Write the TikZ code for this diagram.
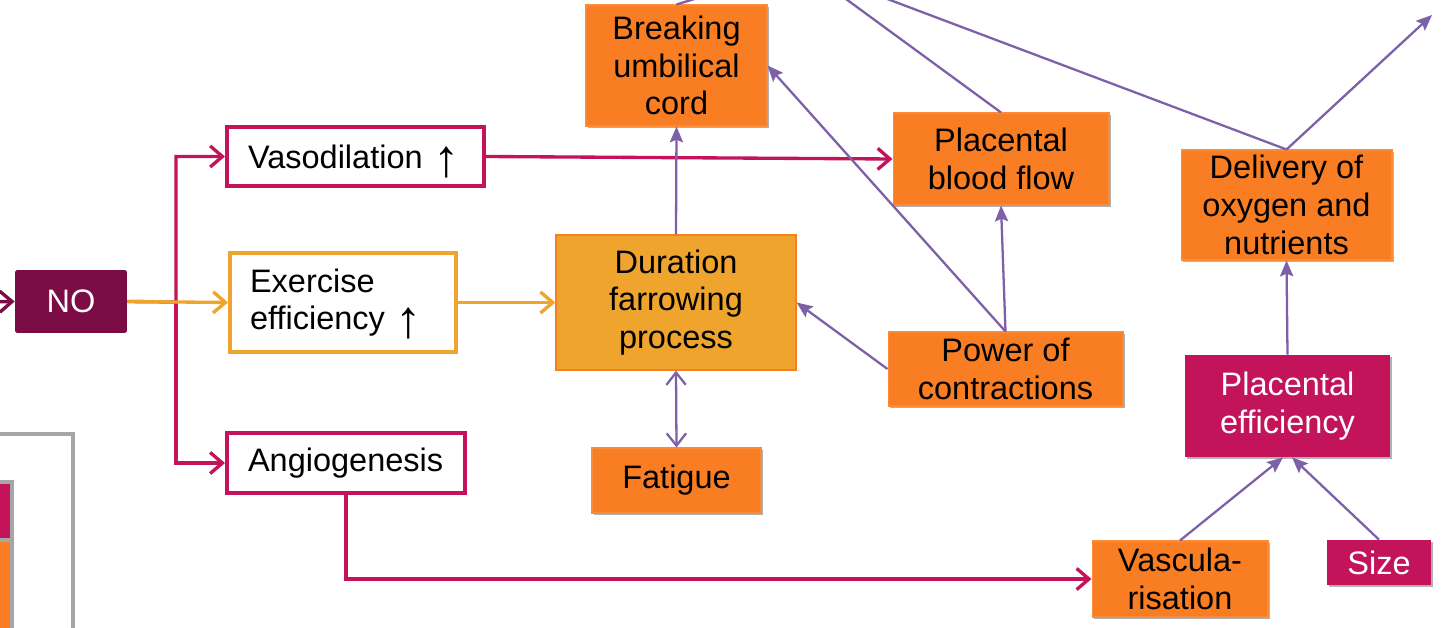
\documentclass[tikz,border=0pt]{standalone}
\usepackage{fontspec}
\setmainfont{Liberation Sans}
\newcommand{\uparr}{\smash{\raisebox{-4.5pt}{\fontsize{30}{21.5}\selectfont ↑}}}
\usetikzlibrary{arrows.meta,shadows,calc}
\definecolor{maroon}{HTML}{7B0C45}
\definecolor{crimson}{HTML}{C2135B}
\definecolor{orng}{HTML}{F97E23}
\definecolor{gold}{HTML}{EFA42E}
\definecolor{purp}{HTML}{7E60A8}
\definecolor{legray}{HTML}{A6A6A6}
\tikzset{
  base/.style={rectangle, inner sep=0pt, align=center, font=\fontsize{18.5}{21.5}\selectfont},
  obox/.style={base, fill=orng, draw=orng!90!white, line width=0.6pt,
     drop shadow={shadow xshift=1.3pt, shadow yshift=-1.3pt, opacity=0.3, fill=black}},
  cbox/.style={base, fill=crimson, text=white,
     drop shadow={shadow xshift=1.3pt, shadow yshift=-1.3pt, opacity=0.3, fill=black}},
  wbox/.style={base, fill=white, draw=crimson, line width=2.3pt},
  cline/.style={draw=crimson, line width=1.9pt, -{Straight Barb[length=7pt,width=12pt]}},
  oline/.style={draw=gold, line width=1.9pt, -{Straight Barb[length=7pt,width=12pt]}},
  pline/.style={draw=purp, line width=1.3pt},
  parrow/.style={pline, -{Stealth[length=9pt,width=7.5pt,inset=1.5pt]}},
  dbarb/.style={pline, {Straight Barb[length=7pt,width=11pt]}-{Straight Barb[length=7pt,width=11pt]}},
}
\begin{document}
\begin{tikzpicture}[x=0.02cm, y=-0.02cm]
\useasboundingbox (0,0) rectangle (1450,628);
\clip (0,0) rectangle (1450,628);
% legend fragment
\draw[legray, line width=2.2pt] (-60,434) rectangle (73,700);
\draw[legray, line width=2.2pt, fill=crimson] (-60,482) rectangle (12,540);
\draw[legray, line width=2.2pt, fill=orng] (-60,540) rectangle (12,700);

% nodes
\node[base, fill=maroon, text=white, minimum width=2.24cm, minimum height=1.26cm, rounded corners=1pt] (NO) at (71,301.5) {NO};
\node[wbox, minimum width=5.14cm, minimum height=1.18cm, text width=4.3cm, align=left] (vaso) at (355.5,156.5) {Vasodilation \uparr};
\node[wbox, draw=gold, minimum width=4.52cm, minimum height=1.98cm, text width=3.72cm, align=left] (ex) at (343,302.5) {Exercise\\efficiency \uparr};
\node[wbox, minimum width=4.76cm, minimum height=1.2cm, text width=3.92cm, align=left] (ang) at (346,463) {Angiogenesis};
\node[base, fill=gold, draw=orng, line width=0.8pt, minimum width=4.8cm, minimum height=2.7cm] (dur) at (676,302.5) {Duration\\farrowing\\process};
\node[obox, minimum width=3.62cm, minimum height=2.42cm] (brk) at (676.5,65.5) {Breaking\\umbilical\\cord};
\node[obox, minimum width=4.32cm, minimum height=1.84cm] (pbf) at (1001,159) {Placental\\blood flow};
\node[obox, minimum width=4.7cm, minimum height=1.48cm] (pow) at (1005.5,369) {Power of\\contractions};
\node[obox, minimum width=3.38cm, minimum height=1.3cm] (fat) at (676.5,480.5) {Fatigue};
\node[obox, minimum width=4.22cm, minimum height=2.2cm] (del) at (1286.5,205) {Delivery of\\oxygen and\\nutrients};
\node[cbox, minimum width=4.1cm, minimum height=2.04cm] (pe) at (1287.5,406) {Placental\\efficiency};
\node[obox, minimum width=3.52cm, minimum height=1.52cm] (vasc) at (1180,579) {Vascula-\\risation};
\node[cbox, minimum width=2.08cm, minimum height=0.9cm] (size) at (1379,562.5) {Size};

% free ends
\coordinate (inNO) at (-30,302);
\coordinate (split) at (176,302);
\coordinate (brkUp) at (757,-20);
\coordinate (pbfUp) at (820,-20);
\coordinate (delUp) at (837,-20);
\coordinate (delOut) at (1432,15);

% connectors
\draw[cline, draw=maroon] (inNO) -- (NO.west);
\draw[cline] (NO.east) -- (split) |- (vaso.west);
\draw[cline] (split) |- (ang.west);
\draw[oline] (NO.east) -- (ex.west);
\draw[oline] (ex.east) -- (dur.west);
\draw[cline] (vaso.east) -- (pbf.west);
\draw[cline] (ang.south) |- (vasc.west);

\draw[parrow] (dur.north) -- (brk.south);
\draw[dbarb] (dur.south) -- (fat.north);
\draw[parrow] (pow.west) -- (dur.east);
\draw[parrow] (pow.north) -- (pbf.south);
\draw[parrow] (pow.north) -- (brk.east);
\draw[pline] (pbf.north) -- (pbfUp);
\draw[pline] (brk.north) -- (brkUp);
\draw[pline] (del.north) -- (delUp);
\draw[parrow] (del.north) -- (delOut);
\draw[parrow] (pe.north) -- (del.south);
\draw[parrow] (vasc.north) -- ([xshift=-0.09cm]pe.south);
\draw[parrow] (size.north) -- ([xshift=0.09cm]pe.south);
\end{tikzpicture}
\end{document}
